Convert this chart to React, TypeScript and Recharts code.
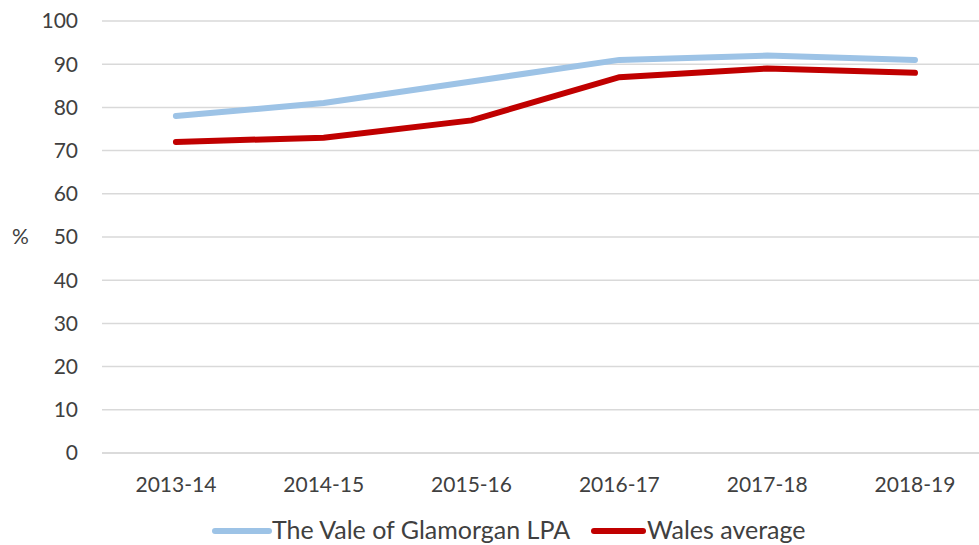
import React from 'react';
import { LineChart, Line, XAxis, YAxis, CartesianGrid, Legend } from 'recharts';

const categories = ['2013-14', '2014-15', '2015-16', '2016-17', '2017-18', '2018-19'];
const valeValues = [78, 81, 86, 91, 92, 91];
const walesValues = [72, 73, 77, 87, 89, 88];
const yTicks = [0, 10, 20, 30, 40, 50, 60, 70, 80, 90, 100];

const seriesNames = { vale: 'The Vale of Glamorgan LPA', wales: 'Wales average' };
const colors = { vale: '#9DC3E6', wales: '#C00000' };

const data = categories.map((c, i) => ({ idx: i, cat: c, vale: valeValues[i], wales: walesValues[i] }));

const FONT = 'Lato, "Open Sans", sans-serif';
const TEXT = '#404040';

const LegendContent = () => (
  <svg width={979} height={32} style={{ display: 'block' }}>
    <line x1={215} x2={269} y1={18} y2={18} stroke={colors.vale} strokeWidth={6} strokeLinecap="round" />
    <text x={272} y={17} dy="0.35em" fill={TEXT} fontSize={25} fontFamily={FONT}>{seriesNames.vale}</text>
    <line x1={594} x2={643} y1={18} y2={18} stroke={colors.wales} strokeWidth={6} strokeLinecap="round" />
    <text x={647} y={17} dy="0.35em" fill={TEXT} fontSize={25} fontFamily={FONT}>{seriesNames.wales}</text>
  </svg>
);

export default function App() {
  return (
    <div style={{ position: 'absolute', left: 0, top: 0, width: 979, height: 545, background: '#fff' }}>
      <LineChart width={979} height={545} data={data} margin={{ top: 21, right: 0, bottom: 0, left: 0 }}>
        <CartesianGrid vertical={false} stroke="#D9D9D9" strokeWidth={1.5} />
        <XAxis
          dataKey="idx"
          type="number"
          domain={[-0.5, 5.433]}
          ticks={[0, 1, 2, 3, 4, 5]}
          tickFormatter={(v: number) => categories[v]}
          axisLine={{ stroke: '#D9D9D9', strokeWidth: 1.5 }}
          tickLine={false}
          tickSize={0}
          tickMargin={24}
          height={60}
          allowDataOverflow
          tick={{ fill: TEXT, fontSize: 21, fontFamily: FONT }}
        />
        <YAxis
          domain={[0, 100]}
          ticks={yTicks}
          width={102}
          axisLine={false}
          tickLine={false}
          tickSize={0}
          tickMargin={24}
          tick={{ fill: TEXT, fontSize: 21, fontFamily: FONT }}
          label={{ value: '%', position: 'insideLeft', offset: 12, fill: TEXT, fontSize: 21, fontFamily: FONT }}
        />
        <Legend verticalAlign="bottom" height={32} content={<LegendContent />} />
        <Line type="linear" dataKey="vale" name={seriesNames.vale} stroke={colors.vale} strokeWidth={6} strokeLinecap="round" dot={false} activeDot={false} isAnimationActive={false} />
        <Line type="linear" dataKey="wales" name={seriesNames.wales} stroke={colors.wales} strokeWidth={6} strokeLinecap="round" dot={false} activeDot={false} isAnimationActive={false} />
      </LineChart>
    </div>
  );
}
